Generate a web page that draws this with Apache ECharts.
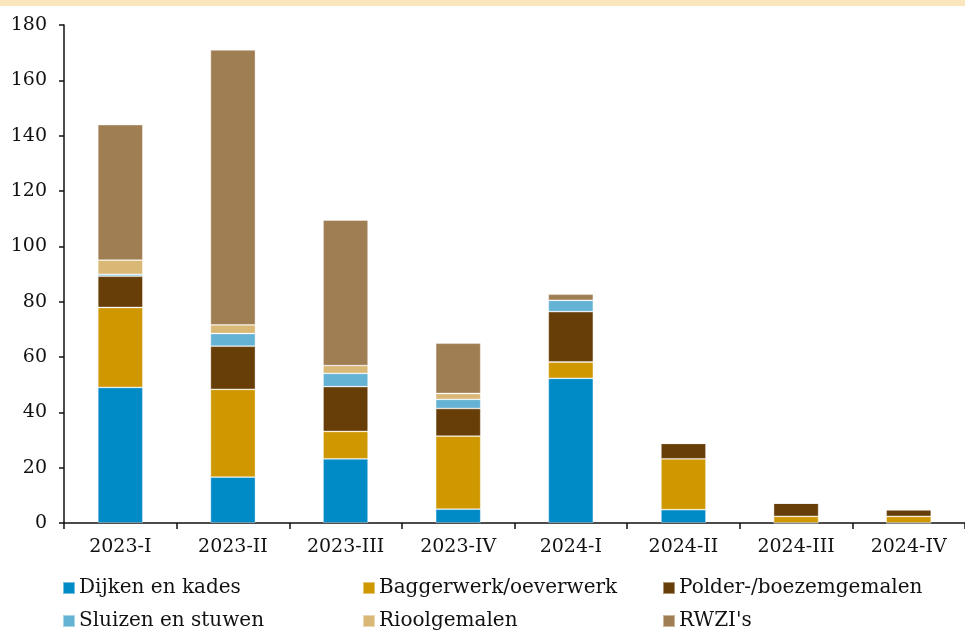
<!DOCTYPE html>
<html><head><meta charset="utf-8">
<script src="https://cdn.jsdelivr.net/npm/echarts@6/dist/echarts.min.js"></script>
<style>html,body{margin:0;padding:0;background:#fff}#c{width:965px;height:632px}</style>
</head><body><div id="c"></div>
<script>
const categories = ['2023-I','2023-II','2023-III','2023-IV','2024-I','2024-II','2024-III','2024-IV'];
const dijken   = [49.0, 16.6, 23.2, 5.0, 52.3, 4.8, 0, 0];
const bagger   = [28.9, 31.7, 9.9, 26.4, 5.9, 18.4, 2.4, 2.4];
const polder   = [11.3, 15.6, 16.2, 10.0, 18.2, 5.6, 4.8, 2.4];
const sluizen  = [0.7, 4.6, 4.8, 3.3, 4.1, 0, 0, 0];
const riool    = [5.1, 3.1, 2.8, 2.1, 0, 0, 0, 0];
const rwzi     = [49.0, 99.4, 52.6, 18.2, 2.2, 0, 0, 0];
const yTicks   = [0, 20, 40, 60, 80, 100, 120, 140, 160, 180];

const names  = ['Dijken en kades','Baggerwerk/oeverwerk','Polder-/boezemgemalen','Sluizen en stuwen','Rioolgemalen',"RWZI's"];
const colors = ['#008AC6','#CF9700','#673D08','#64B2D4','#D9B775','#A07E54'];
const values = [dijken, bagger, polder, sluizen, riool, rwzi];

const FONT = 'DejaVu Serif';
const chart = echarts.init(document.getElementById('c'), null, {renderer:'canvas'});

const legendPos = [[62,578],[362,578],[662,578],[62,611],[362,611],[662,611]];
const legends = names.map((n,i)=>({
  data:[n], left:legendPos[i][0], top:legendPos[i][1], orient:'horizontal',
  itemWidth:12, itemHeight:12, itemGap:0, padding:0, icon:'rect',
  selectedMode:false,
  textStyle:{fontFamily:FONT, fontSize:20, color:'#111', padding:[0,0,0,-1]}
}));

chart.setOption({
  animation:false,
  color: colors,
  graphic:[{type:'rect', left:0, top:0, shape:{width:965, height:6}, style:{fill:'#FBE5BC'}}],
  grid:{left:64, top:25, right:-9, bottom:109, containLabel:false},
  legend: legends,
  xAxis:{
    type:'category', data:categories,
    axisLine:{lineStyle:{color:'#111', width:1.5}},
    axisTick:{show:true, length:6, lineStyle:{color:'#111', width:1.5}},
    axisLabel:{fontFamily:FONT, fontSize:19, color:'#111', margin:15}
  },
  yAxis:{
    type:'value', min:0, max:180, interval:20,
    axisLine:{show:true, lineStyle:{color:'#111', width:1.5}},
    axisTick:{show:true, length:5, lineStyle:{color:'#111', width:1.5}},
    splitLine:{show:false},
    axisLabel:{fontFamily:FONT, fontSize:19, color:'#111', margin:17,
      formatter:v=> yTicks.includes(v) ? String(v) : ''}
  },
  series: names.map((n,i)=>({
    name:n, type:'bar', stack:'t', barWidth:'40%',
    data: values[i],
    itemStyle:{color:colors[i], borderColor:'rgba(255,255,255,0.45)', borderWidth:0.8}
  }))
});
</script></body></html>
